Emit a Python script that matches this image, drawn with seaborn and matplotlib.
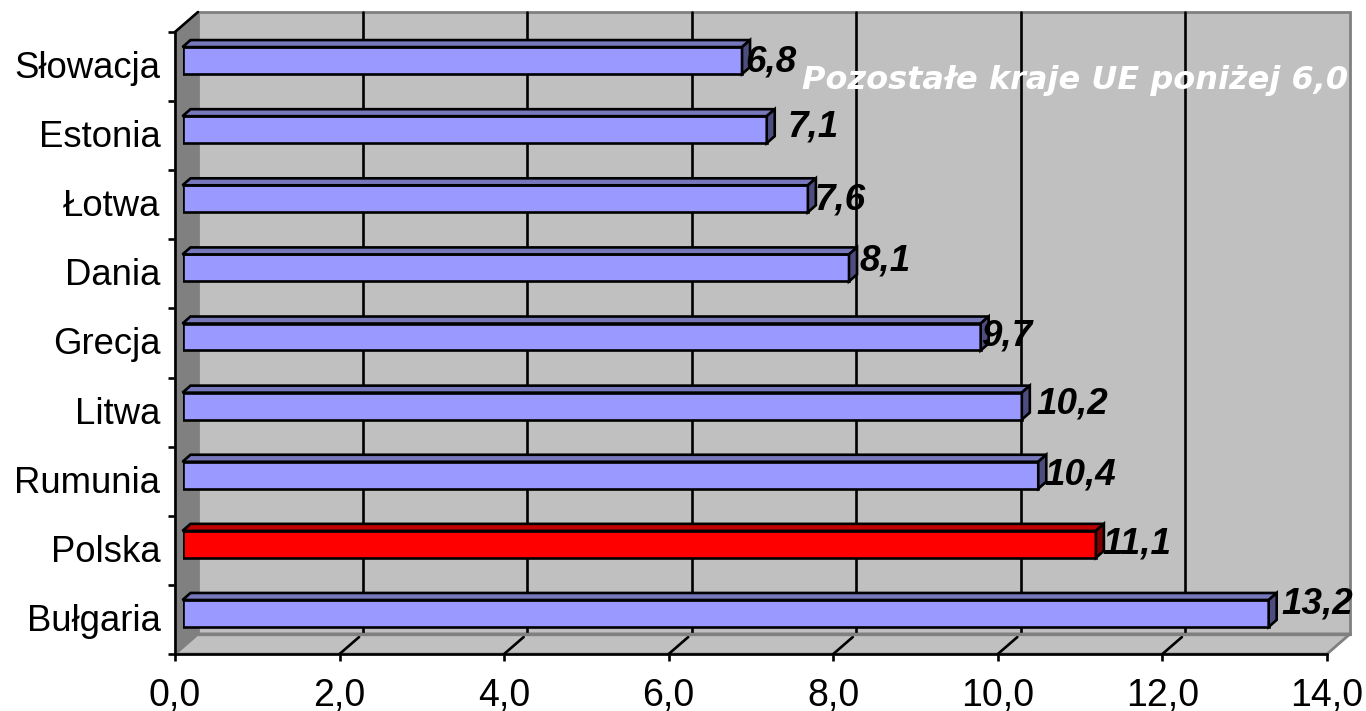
import numpy as np
import pandas as pd
import matplotlib.pyplot as plt
import matplotlib.transforms as mtrans
import seaborn as sns
from matplotlib.patches import Polygon

countries = ["Słowacja", "Estonia", "Łotwa", "Dania", "Grecja", "Litwa", "Rumunia", "Polska", "Bułgaria"]
values = [6.8, 7.1, 7.6, 8.1, 9.7, 10.2, 10.4, 11.1, 13.2]
x_ticks = [0, 2, 4, 6, 8, 10, 12, 14]
note = "Pozostałe kraje UE poniżej 6,0"
highlight = "Polska"

# hand placed data labels, pixels from the bar end (same as in the source chart)
label_dx = [3, 21, 7, 11, 0, 15, 6, 7, 13]
label_dy = [-1, 3, -1, 7, 1, 2, 0, 0, 9]

W, H = 1366, 711
LEFT, RIGHT, TOP, BOTTOM = 175, 1327, 32, 654
DEPTH_X, DEPTH_Y = 23, 20
BAR_SHIFT_X, BAR_SHIFT_Y = 7.5, 6
BAR_DEPTH_X, BAR_DEPTH_Y = 8, 7
LINE = 1.9

sns.set_style("white")
plt.rcParams["font.family"] = ["Liberation Sans", "DejaVu Sans"]

fig = plt.figure(figsize=(W / 100, H / 100), dpi=100)


def axes_box(shift_x=0, shift_y=0):
    return [(LEFT + shift_x) / W, (H - BOTTOM + shift_y) / H, (RIGHT - LEFT) / W, (BOTTOM - TOP) / H]


# front plane: carries the axes, ticks and the walls behind the bars
ax = fig.add_axes(axes_box())
ax.set_xlim(0, 14)
ax.set_ylim(len(countries) - 0.5, -0.5)
ax.patch.set_visible(False)

px_x = 14 / (RIGHT - LEFT)
px_y = len(countries) / (BOTTOM - TOP)
dx, dy = DEPTH_X * px_x, DEPTH_Y * px_y
y_top, y_bot = -0.5, len(countries) - 0.5

ax.add_patch(Polygon([(dx, y_top - dy), (14 + dx, y_top - dy), (14 + dx, y_bot - dy), (dx, y_bot - dy)],
                     facecolor="#C0C0C0", edgecolor="#808080", lw=2, clip_on=False, zorder=1))
ax.add_patch(Polygon([(0, y_top), (dx, y_top - dy), (dx, y_bot - dy), (0, y_bot)],
                     facecolor="#808080", edgecolor="#808080", lw=1, clip_on=False, zorder=1))
ax.add_patch(Polygon([(0, y_bot), (dx, y_bot - dy), (14 + dx, y_bot - dy), (14, y_bot)],
                     facecolor="#C0C0C0", edgecolor="#808080", lw=2, clip_on=False, zorder=1))
ax.plot([0, dx], [y_top, y_top - dy], color="black", lw=LINE, clip_on=False, zorder=2)

for t in x_ticks[1:-1]:
    ax.plot([t + dx, t + dx], [y_top - dy, y_bot - dy], color="black", lw=LINE, clip_on=False, zorder=2)
    ax.plot([t, t + dx * 0.85], [y_bot, y_bot - dy * 0.85], color="black", lw=LINE, clip_on=False, zorder=2)

# back edge of the floor goes over the gridlines
ax.plot([dx, 14 + dx], [y_bot - dy, y_bot - dy], color="#808080", lw=2.4, clip_on=False, zorder=2.2)

for side in ["top", "right"]:
    ax.spines[side].set_visible(False)
for side in ["left", "bottom"]:
    ax.spines[side].set_color("black")
    ax.spines[side].set_linewidth(LINE)

ax.set_xticks(x_ticks)
ax.set_xticklabels([f"{t:.1f}".replace(".", ",") for t in x_ticks], fontsize=27)
ax.set_yticks(np.arange(len(countries)))
ax.set_yticklabels(countries, fontsize=26.3)
ax.set_yticks(np.arange(len(countries) + 1) - 0.5, minor=True)
ax.tick_params(axis="x", length=5, width=LINE, color="black", pad=12, bottom=True, labelcolor="black")
ax.tick_params(axis="y", which="major", length=0, pad=10.5, labelcolor="black")
ax.tick_params(axis="y", which="minor", length=5, width=LINE, color="black", left=True)
ax.set_xlabel("")
ax.set_ylabel("")

# country names sit a little above the middle of their cell
nudge = mtrans.ScaledTranslation(0, 2 / 100, fig.dpi_scale_trans)
for lab in ax.get_yticklabels():
    lab.set_transform(lab.get_transform() + nudge)

# bars sit on their own axes, same scale, nudged into the depth of the chart
ax_bars = fig.add_axes(axes_box(BAR_SHIFT_X, BAR_SHIFT_Y), zorder=3)
df = pd.DataFrame({"country": countries, "value": values})
palette = {c: ("#FF0000" if c == highlight else "#9999FF") for c in countries}
sns.barplot(data=df, x="value", y="country", hue="country", palette=palette, legend=False,
            saturation=1, width=0.39, edgecolor="black", linewidth=LINE, order=countries, ax=ax_bars)
ax_bars.set_xlim(0, 14)
ax_bars.set_ylim(len(countries) - 0.5, -0.5)
ax_bars.axis("off")

bar_dx, bar_dy = BAR_DEPTH_X * px_x, BAR_DEPTH_Y * px_y
for patch in [p for p in ax_bars.patches if p.get_width() > 0]:
    x1 = patch.get_width()
    y0, y1 = patch.get_y(), patch.get_y() + patch.get_height()
    is_red = patch.get_facecolor()[1] == 0
    top_color = "#C00000" if is_red else "#7777BB"
    side_color = "#800000" if is_red else "#4D4D80"
    ax_bars.add_patch(Polygon([(0, y0), (bar_dx, y0 - bar_dy), (x1 + bar_dx, y0 - bar_dy), (x1, y0)],
                              facecolor=top_color, edgecolor="black", lw=LINE, clip_on=False, zorder=1))
    ax_bars.add_patch(Polygon([(x1, y0), (x1 + bar_dx, y0 - bar_dy), (x1 + bar_dx, y1 - bar_dy), (x1, y1)],
                              facecolor=side_color, edgecolor="black", lw=LINE, clip_on=False, zorder=1))

for i, v in enumerate(values):
    ax_bars.annotate(f"{v:.1f}".replace(".", ","), xy=(v, i), xytext=(label_dx[i], label_dy[i]),
                     textcoords="offset pixels", ha="left", va="center", fontsize=26.5,
                     fontweight="bold", fontstyle="italic", color="black", annotation_clip=False, zorder=5)

fig.text(1348 / W, 1 - 80 / H, note, ha="right", va="center", color="white", fontsize=23,
         fontweight="bold", fontstyle="italic", family="DejaVu Sans", zorder=10)

fig.savefig("out.png", dpi=100)
plt.close(fig)
